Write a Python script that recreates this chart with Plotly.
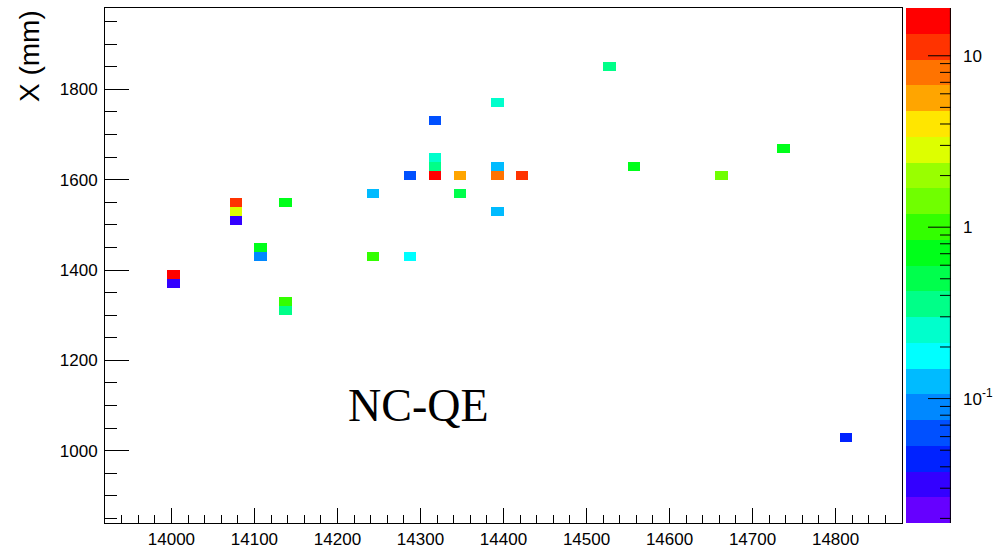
import numpy as np
import plotly.graph_objects as go

# ---- histogram binning (mm) ----
X_MIN, X_MAX, X_BIN = 13920, 14880, 15
Y_MIN, Y_MAX, Y_BIN = 840, 1980, 20

# ---- filled bins: bin centres and contents ----
z_pos = [14002.5, 14002.5, 14077.5, 14077.5, 14077.5, 14137.5, 14107.5, 14107.5,
         14137.5, 14137.5, 14242.5, 14242.5, 14287.5, 14287.5, 14317.5, 14317.5,
         14317.5, 14317.5, 14347.5, 14347.5, 14392.5, 14392.5, 14392.5, 14392.5,
         14422.5, 14527.5, 14557.5, 14662.5, 14737.5, 14812.5]
x_pos = [1390, 1370, 1550, 1530, 1510, 1550, 1450, 1430,
         1330, 1310, 1570, 1430, 1430, 1610, 1610, 1630,
         1650, 1730, 1610, 1570, 1610, 1630, 1770, 1530,
         1610, 1850, 1630, 1610, 1670, 1030]
contents = [16, 0.032, 11, 2.8, 0.032, 0.7, 0.7, 0.09,
            1.0, 0.36, 0.13, 1.0, 0.18, 0.063, 16, 0.36,
            0.25, 0.063, 5.7, 0.5, 8, 0.13, 0.25, 0.13,
            11, 0.36, 0.7, 1.4, 0.7, 0.045]

# ---- log colour scale ----
Z_LO, Z_HI = 0.0188, 19.0
N_CONT = 20
palette = ["#6600FF", "#3300FF", "#0022FF", "#0050FF", "#0088FF",
           "#00BBFF", "#00FFFF", "#00FFCC", "#00FF88", "#00FF4C",
           "#00FF1A", "#33FF00", "#70FF00", "#99FF00", "#DDFF00",
           "#FFE600", "#FFA500", "#FF7300", "#FF3300", "#FF0000"]
cbar_major = [0.1, 1, 10]
cbar_major_text = ["10<sup>-1</sup>", "1", "10"]

lz_lo, lz_hi = np.log10(Z_LO), np.log10(Z_HI)
colorscale = []
for k, c in enumerate(palette):
    colorscale.append([k / N_CONT, c])
    colorscale.append([(k + 1) / N_CONT, c])

# 2D grid of log10(content); empty bins stay NaN
xc = np.arange(X_MIN + X_BIN / 2, X_MAX, X_BIN)
yc = np.arange(Y_MIN + Y_BIN / 2, Y_MAX, Y_BIN)
grid = np.full((len(yc), len(xc)), np.nan)
for zx, xx, v in zip(z_pos, x_pos, contents):
    i = int(round((zx - xc[0]) / X_BIN))
    j = int(round((xx - yc[0]) / Y_BIN))
    grid[j, i] = np.log10(v)

fig = go.Figure()
fig.add_trace(go.Heatmap(
    x=xc, y=yc, z=grid, colorscale=colorscale, zmin=lz_lo, zmax=lz_hi,
    showscale=False, hoverongaps=False, xaxis="x", yaxis="y"))

# palette bar drawn as a one-column heatmap on its own axes
edges = np.linspace(lz_lo, lz_hi, N_CONT + 1)
centres = (edges[:-1] + edges[1:]) / 2
fig.add_trace(go.Heatmap(
    x=[0, 1], y=edges, z=[[c] for c in centres], colorscale=colorscale,
    zmin=lz_lo, zmax=lz_hi, showscale=False, xaxis="x2", yaxis="y2",
    hoverinfo="skip"))

minor_vals = []
for dec in range(-2, 2):
    for m in range(2, 10):
        v = m * 10.0 ** dec
        if Z_LO <= v <= Z_HI:
            minor_vals.append(float(np.log10(v)))
major_vals = [float(np.log10(v)) for v in cbar_major]

FONT = "Liberation Sans, Arial, sans-serif"
tickfont = dict(family=FONT, size=17, color="black")

W, H = 999, 550
L, R, T, B = 105, 48, 8, 27
pw = W - L - R
frame_right = 902
bar_left = 906
bar_w = W - R - bar_left

# palette ticks (pointing inwards from the right edge) and edge line
MAJ_LEN, MIN_LEN = 23, 11
edge_x = 1 - 0.6 / bar_w
tx, ty = [], []
for v in major_vals:
    tx += [1 - MAJ_LEN / bar_w, 1, None]
    ty += [v, v, None]
for v in minor_vals:
    tx += [1 - MIN_LEN / bar_w, 1, None]
    ty += [v, v, None]
tx += [edge_x, edge_x]
ty += [lz_lo, lz_hi]
fig.add_trace(go.Scatter(x=tx, y=ty, mode="lines",
                         line=dict(color="black", width=1),
                         xaxis="x2", yaxis="y2", hoverinfo="skip",
                         showlegend=False))

fig.update_layout(
    width=W, height=H, margin=dict(l=L, r=R, t=T, b=B, autoexpand=False),
    paper_bgcolor="white", plot_bgcolor="white", showlegend=False,
    xaxis=dict(domain=[0, (frame_right - L) / pw], range=[X_MIN, X_MAX],
               tick0=14000, dtick=100, tickformat="d", ticks="inside",
               ticklen=15, tickwidth=1, automargin=False,
               tickcolor="black", showgrid=False, zeroline=False,
               showline=True, linecolor="black", linewidth=1, mirror=True,
               tickfont=tickfont, ticklabelstandoff=1,
               minor=dict(dtick=20, ticks="inside", ticklen=8, tickwidth=1,
                          tickcolor="black", showgrid=False)),
    yaxis=dict(range=[Y_MIN, Y_MAX], tick0=1000, dtick=200, tickformat="d",
               ticks="inside", automargin=False,
               ticklen=24, tickwidth=1, tickcolor="black", showgrid=False,
               zeroline=False, showline=True, linecolor="black", linewidth=1,
               mirror=True, tickfont=tickfont, ticklabelstandoff=3,
               minor=dict(dtick=50, ticks="inside", ticklen=12, tickwidth=1,
                          tickcolor="black", showgrid=False)),
    xaxis2=dict(domain=[(bar_left - L) / pw, 1], range=[0, 1], visible=False,
                anchor="y2", automargin=False),
    yaxis2=dict(domain=[0, 1], range=[lz_lo, lz_hi], anchor="x2", side="right",
                tickmode="array", tickvals=major_vals,
                ticktext=cbar_major_text, ticks="", showgrid=False,
                zeroline=False, showline=False, automargin=False,
                tickfont=tickfont, ticklabelstandoff=11),
)

# y-axis title, right-aligned at the top of the axis
fig.add_annotation(text="X (mm)", xref="paper", yref="paper",
                   x=(29 - L) / pw, y=1.0, xanchor="center", yanchor="top",
                   textangle=-90, showarrow=False,
                   font=dict(family=FONT, size=28, color="black"))

# process label
fig.add_annotation(text="NC-QE", x=14298, y=1100, xref="x", yref="y",
                   showarrow=False,
                   font=dict(family="Liberation Serif, Times New Roman, serif",
                             size=46, color="black"))

fig.write_html("out.html")
